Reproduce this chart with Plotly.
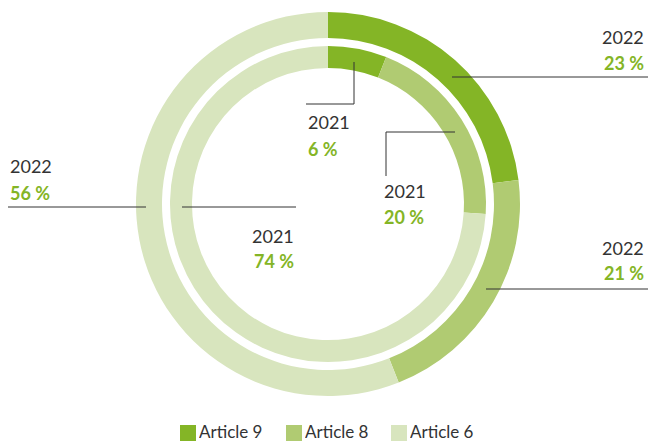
import plotly.graph_objects as go

categories = ["Article 9", "Article 8", "Article 6"]
values_2022 = [23, 21, 56]
values_2021 = [6, 20, 74]
colors = ["#84b526", "#b0cb72", "#d8e5be"]

W, H = 648, 442
CX, CY = 328, 204
R_OUT, R_IN = 192, 158


def fx(x):
    return x / W


def fy(y):
    return 1 - y / H


fig = go.Figure()
fig.add_trace(go.Pie(
    labels=categories, values=values_2022, sort=False, direction="clockwise",
    rotation=0, hole=166 / 192, textinfo="none", hoverinfo="label+percent",
    marker=dict(colors=colors, line=dict(width=0)),
    domain=dict(x=[fx(CX - R_OUT), fx(CX + R_OUT)], y=[fy(CY + R_OUT), fy(CY - R_OUT)]),
    name="2022", showlegend=False,
))
fig.add_trace(go.Pie(
    labels=categories, values=values_2021, sort=False, direction="clockwise",
    rotation=0, hole=136 / 158, textinfo="none", hoverinfo="label+percent",
    marker=dict(colors=colors, line=dict(width=0)),
    domain=dict(x=[fx(CX - R_IN), fx(CX + R_IN)], y=[fy(CY + R_IN), fy(CY - R_IN)]),
    name="2021", showlegend=False,
))

LINE = dict(color="#333333", width=1)
segments = [
    [(452, 77), (648, 77)],
    [(306, 104), (354, 104), (354, 62)],
    [(455, 132), (386, 132), (386, 176)],
    [(486, 289), (648, 289)],
    [(8, 207), (146, 207)],
    [(182, 207), (296, 207)],
]
for seg in segments:
    path = "M " + " L ".join(f"{fx(x)},{fy(y)}" for x, y in seg)
    fig.add_shape(type="path", path=path, xref="paper", yref="paper", line=LINE)

FONT = "Lato, 'Open Sans', sans-serif"
# (year, value, x, y_year, y_value, anchor)
labels = [
    ("2022", values_2022[0], 646, 37, 63, "right"),
    ("2021", values_2021[0], 306, 122, 149, "left"),
    ("2021", values_2021[1], 382, 191, 217, "left"),
    ("2022", values_2022[1], 646, 248, 273, "right"),
    ("2022", values_2022[2], 8, 166, 193, "left"),
    ("2021", values_2021[2], 296, 236, 261, "right"),
]
for year, val, x, yy, yv, anc in labels:
    fig.add_annotation(text=year, x=fx(x), y=fy(yy), xref="paper", yref="paper",
                       xanchor=anc, yanchor="middle", showarrow=False,
                       font=dict(family=FONT, size=18, color="#333333"))
    fig.add_annotation(text=f"<b>{val} %</b>", x=fx(x), y=fy(yv), xref="paper", yref="paper",
                       xanchor=anc, yanchor="middle", showarrow=False,
                       font=dict(family=FONT, size=18, color="#84b526"))

# Legend (manual, to match square swatches)
legend_x = [180, 286, 391]
for cat, col, lx in zip(categories, colors, legend_x):
    fig.add_shape(type="rect", xref="paper", yref="paper",
                  x0=fx(lx), x1=fx(lx + 16), y0=fy(441), y1=fy(425),
                  fillcolor=col, line=dict(width=0))
    fig.add_annotation(text=cat, x=fx(lx + 18), y=fy(442), xref="paper", yref="paper",
                       xanchor="left", yanchor="bottom", showarrow=False,
                       height=19, valign="middle", borderpad=0,
                       font=dict(family=FONT, size=17, color="#333333"))

fig.update_layout(
    width=W, height=H, margin=dict(l=0, r=0, t=0, b=0),
    paper_bgcolor="white", plot_bgcolor="white",
    font=dict(family=FONT, size=17, color="#333333"),
    showlegend=False,
)

fig.write_html("out.html", config={"displayModeBar": False},
               post_script="document.body.style.margin='0';")
